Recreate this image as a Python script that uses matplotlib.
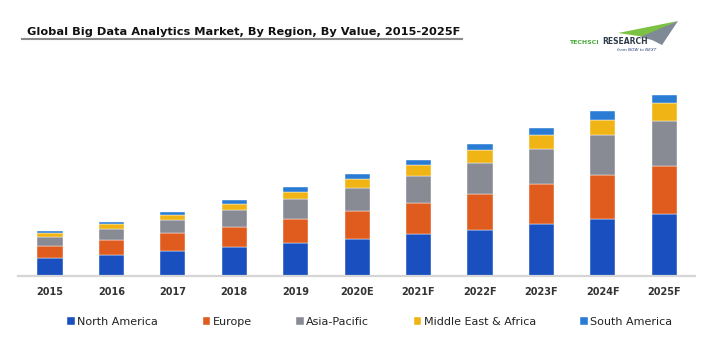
"""
Global Big Data Analytics Market, By Region, By Value, 2015-2025F
Stacked bar chart recreated with matplotlib, saved as out.png.
"""

import matplotlib
matplotlib.use("Agg")
import matplotlib.pyplot as plt
import numpy as np
from matplotlib.patches import Polygon
from matplotlib.lines import Line2D

# Data (relative values)
years = ["2015", "2016", "2017", "2018", "2019", "2020E",
         "2021F", "2022F", "2023F", "2024F", "2025F"]
north_america = [17.7, 21.0, 25.0, 28.7, 33.0, 36.7, 41.7, 46.0, 51.7, 56.7, 61.7]
europe = [12.6, 15.0, 17.7, 20.6, 24.0, 28.3, 31.6, 36.3, 40.0, 44.0, 48.3]
asia_pacific = [9.0, 11.0, 13.3, 16.7, 20.0, 22.7, 26.7, 31.0, 35.0, 40.0, 45.0]
middle_east_africa = [4.0, 5.0, 5.0, 6.0, 7.0, 9.0, 11.0, 12.4, 14.0, 15.6, 17.7]
south_america = [1.7, 2.0, 3.0, 4.0, 5.0, 5.0, 5.0, 6.0, 7.3, 8.4, 8.3]

series = [
    ("North America", north_america, "#1a4fc0"),
    ("Europe", europe, "#e05c1e"),
    ("Asia-Pacific", asia_pacific, "#888a94"),
    ("Middle East & Africa", middle_east_africa, "#f0b414"),
    ("South America", south_america, "#2a7bd4"),
]

W, H = 706, 360
fig = plt.figure(figsize=(W / 100, H / 100), dpi=100)
fig.patch.set_facecolor("white")

# main axes, placed in pixel terms
ax = fig.add_axes([18 / W, 84 / H, 677 / W, 190 / H])
x = np.arange(len(years))
bottom = np.zeros(len(years))
for name, vals, color in series:
    ax.bar(x, vals, width=0.41, bottom=bottom, color=color, label=name,
           edgecolor="white", linewidth=0.3)
    bottom += np.array(vals)

ax.set_xlim(-0.52, 10.5)
ax.set_ylim(0, 190)
ax.set_xticks(x)
ax.set_xticklabels(years, fontsize=7, fontweight="bold", color="#333333")
ax.tick_params(axis="x", length=0, pad=8)
ax.set_yticks([])
for side in ["left", "top", "right"]:
    ax.spines[side].set_visible(False)
ax.spines["bottom"].set_color("#d6d6d6")
ax.spines["bottom"].set_linewidth(1.6)

# legend
handles, labels = ax.get_legend_handles_labels()
fig.legend(handles, labels, loc="center", bbox_to_anchor=(370 / W, 1 - 322 / H),
           ncol=5, frameon=False, fontsize=8, handlelength=0.65, handleheight=0.65,
           handletextpad=0.25, columnspacing=4.0, labelcolor="#222222")

# overlay in pixel coordinates for title underline and logo
ov = fig.add_axes([0, 0, 1, 1], zorder=5)
ov.set_xlim(0, W)
ov.set_ylim(H, 0)
ov.axis("off")
ov.patch.set_alpha(0)

ov.text(27, 32, "Global Big Data Analytics Market, By Region, By Value, 2015-2025F",
        fontsize=8.2, fontweight="bold", color="#111111", va="center", ha="left")
ov.add_line(Line2D([22, 462], [39, 39], color="#8a8a8a", linewidth=1.5))

# TechSci Research logo (approximate)
ov.add_patch(Polygon([(618, 33), (678, 21), (645, 37)], closed=True,
                     facecolor="#7cc242", edgecolor="none"))
ov.add_patch(Polygon([(640, 37), (678, 21), (662, 45), (652, 40)], closed=True,
                     facecolor="#7f8a96", edgecolor="none"))
ov.text(599, 42, "TECHSCI", fontsize=4.5, fontweight="bold", color="#4aa83a",
        va="center", ha="right")
ov.text(602, 42, "RESEARCH", fontsize=5.5, fontweight="bold", color="#2f3b4c",
        va="center", ha="left")
ov.text(617, 50, "from NOW to NEXT", fontsize=3, style="italic", color="#1f3a7a",
        va="center", ha="left")

fig.savefig("out.png", dpi=100, facecolor="white")
